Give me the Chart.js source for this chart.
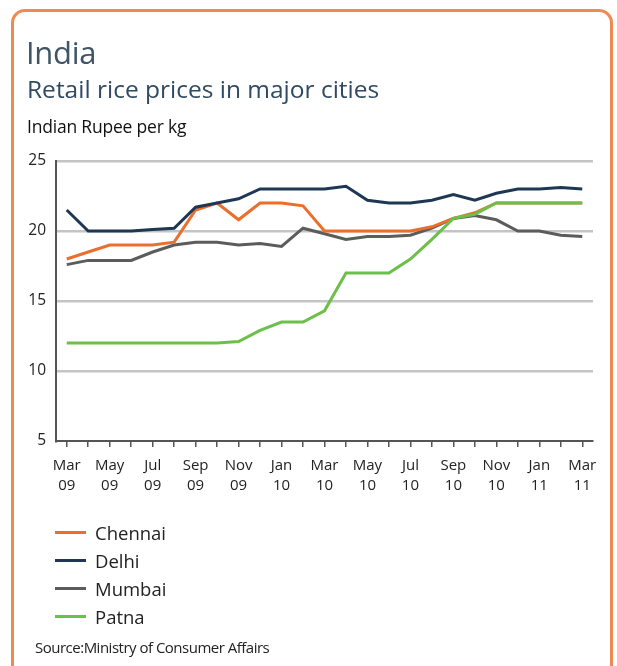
<!DOCTYPE html>
<html>
<head>
<meta charset="utf-8">
<script src="https://cdn.jsdelivr.net/npm/chart.js@4.4.1/dist/chart.umd.min.js"></script>
<style>
  html, body { margin: 0; padding: 0; background: #fff; }
  body { width: 617px; height: 666px; overflow: hidden; position: relative; font-family: "Open Sans", sans-serif; }
  #frame { position: absolute; left: 11px; top: 9px; width: 596px; height: 700px; border: 3px solid #ee8a52; border-radius: 14px; }
  #chartBox { position: absolute; left: 0; top: 0; width: 617px; height: 666px; }
  .txt { position: absolute; white-space: nowrap; }
  #title { left: 26px; top: 31px; font-size: 31px; color: #3f5567; letter-spacing: -0.3px; }
  #subtitle { left: 27px; top: 72px; font-size: 24.5px; color: #2f4a62; letter-spacing: 0; }
  #unit { left: 27px; top: 114px; font-size: 17.5px; color: #111; letter-spacing: -0.2px; }
  #legend { position: absolute; left: 55px; top: 518px; }
  .item { height: 28px; display: flex; align-items: center; font-size: 18.5px; color: #222; }
  .item span { display: inline-block; width: 31px; height: 3px; margin-right: 9px; }
  #source { left: 35px; top: 637px; font-size: 15px; color: #222; letter-spacing: -0.5px; }
</style>
</head>
<body>
<div id="frame"></div>
<div id="chartBox"><canvas id="myChart"></canvas></div>
<div class="txt" id="title">India</div>
<div class="txt" id="subtitle">Retail rice prices in major cities</div>
<div class="txt" id="unit">Indian Rupee per kg</div>
<div id="legend"></div>
<div class="txt" id="source">Source:Ministry of Consumer Affairs</div>
<script>
// meses de Mar 09 a Mar 11
var meses = [
    ["Mar", "09"], ["Apr", "09"], ["May", "09"], ["Jun", "09"], ["Jul", "09"], ["Aug", "09"],
    ["Sep", "09"], ["Oct", "09"], ["Nov", "09"], ["Dec", "09"], ["Jan", "10"], ["Feb", "10"],
    ["Mar", "10"], ["Apr", "10"], ["May", "10"], ["Jun", "10"], ["Jul", "10"], ["Aug", "10"],
    ["Sep", "10"], ["Oct", "10"], ["Nov", "10"], ["Dec", "10"], ["Jan", "11"], ["Feb", "11"],
    ["Mar", "11"]
];
var chennai = [18.0, 18.5, 19.0, 19.0, 19.0, 19.2, 21.5, 22.0, 20.8, 22.0, 22.0, 21.8,
               20.0, 20.0, 20.0, 20.0, 20.0, 20.3, 20.9, 21.3, 22.0, 22.0, 22.0, 22.0, 22.0];
var delhi = [21.5, 20.0, 20.0, 20.0, 20.1, 20.2, 21.7, 22.0, 22.3, 23.0, 23.0, 23.0,
             23.0, 23.2, 22.2, 22.0, 22.0, 22.2, 22.6, 22.2, 22.7, 23.0, 23.0, 23.1, 23.0];
var mumbai = [17.6, 17.9, 17.9, 17.9, 18.5, 19.0, 19.2, 19.2, 19.0, 19.1, 18.9, 20.2,
              19.8, 19.4, 19.6, 19.6, 19.7, 20.2, 20.9, 21.1, 20.8, 20.0, 20.0, 19.7, 19.6];
var patna = [12.0, 12.0, 12.0, 12.0, 12.0, 12.0, 12.0, 12.0, 12.1, 12.9, 13.5, 13.5,
             14.3, 17.0, 17.0, 17.0, 18.0, 19.4, 20.9, 21.2, 22.0, 22.0, 22.0, 22.0, 22.0];
var yTicks = [5, 10, 15, 20, 25];

var cidades = [
    { nome: "Chennai", valores: chennai, cor: "#ea6f2c", ordem: 2 },
    { nome: "Delhi", valores: delhi, cor: "#1e3854", ordem: 1 },
    { nome: "Mumbai", valores: mumbai, cor: "#5c5c5c", ordem: 3 },
    { nome: "Patna", valores: patna, cor: "#6cbf4a", ordem: 0 }
];

// legenda em html
var legenda = document.getElementById('legend');
cidades.forEach(function(c){
    var item = document.createElement('div');
    item.className = 'item';
    item.innerHTML = '<span style="background:' + c.cor + '"></span>' + c.nome;
    legenda.appendChild(item);
});

var ctx = document.getElementById('myChart').getContext('2d');
var myChart = new Chart(ctx, {
    type: 'line',
    data: {
        labels: meses,
        datasets: cidades.map(function(c){
            return {
                label: c.nome,
                data: c.valores,
                borderColor: c.cor,
                backgroundColor: c.cor,
                borderWidth: 3,
                pointRadius: 0,
                tension: 0,
                order: c.ordem
            };
        })
    },
    options: {
        responsive: true,
        maintainAspectRatio: false,
        animation: false,
        layout: { padding: { top: 161, left: 0, right: 24, bottom: 165 } },
        plugins: {
            legend: { display: false },
            title: { display: false },
            tooltip: { enabled: false }
        },
        scales: {
            x: {
                offset: true,
                afterFit: function(scale){ scale.height = 60; },
                grid: { drawOnChartArea: false, drawTicks: true, tickLength: 6, color: '#555', lineWidth: 1.5 },
                border: { display: true, color: '#555', width: 2 },
                ticks: {
                    autoSkip: false,
                    maxRotation: 0,
                    padding: 9,
                    color: '#222',
                    font: { family: 'Open Sans', size: 15, lineHeight: 1.3 },
                    callback: function(v, i){ return i % 2 == 0 ? meses[i] : ''; }
                }
            },
            y: {
                min: 5,
                max: 25,
                afterFit: function(scale){ scale.width = 56; },
                afterBuildTicks: function(scale){
                    scale.ticks = yTicks.map(function(v){ return { value: v }; });
                },
                grid: {
                    drawTicks: false,
                    lineWidth: 2.5,
                    color: function(c){ return c.tick && c.tick.value == 5 ? 'rgba(0,0,0,0)' : '#c4c4c4'; }
                },
                border: { display: true, color: '#555', width: 2 },
                ticks: {
                    padding: 10,
                    color: '#222',
                    font: { family: 'Open Sans', size: 15.5 }
                }
            }
        }
    }
});
</script>
</body>
</html>
